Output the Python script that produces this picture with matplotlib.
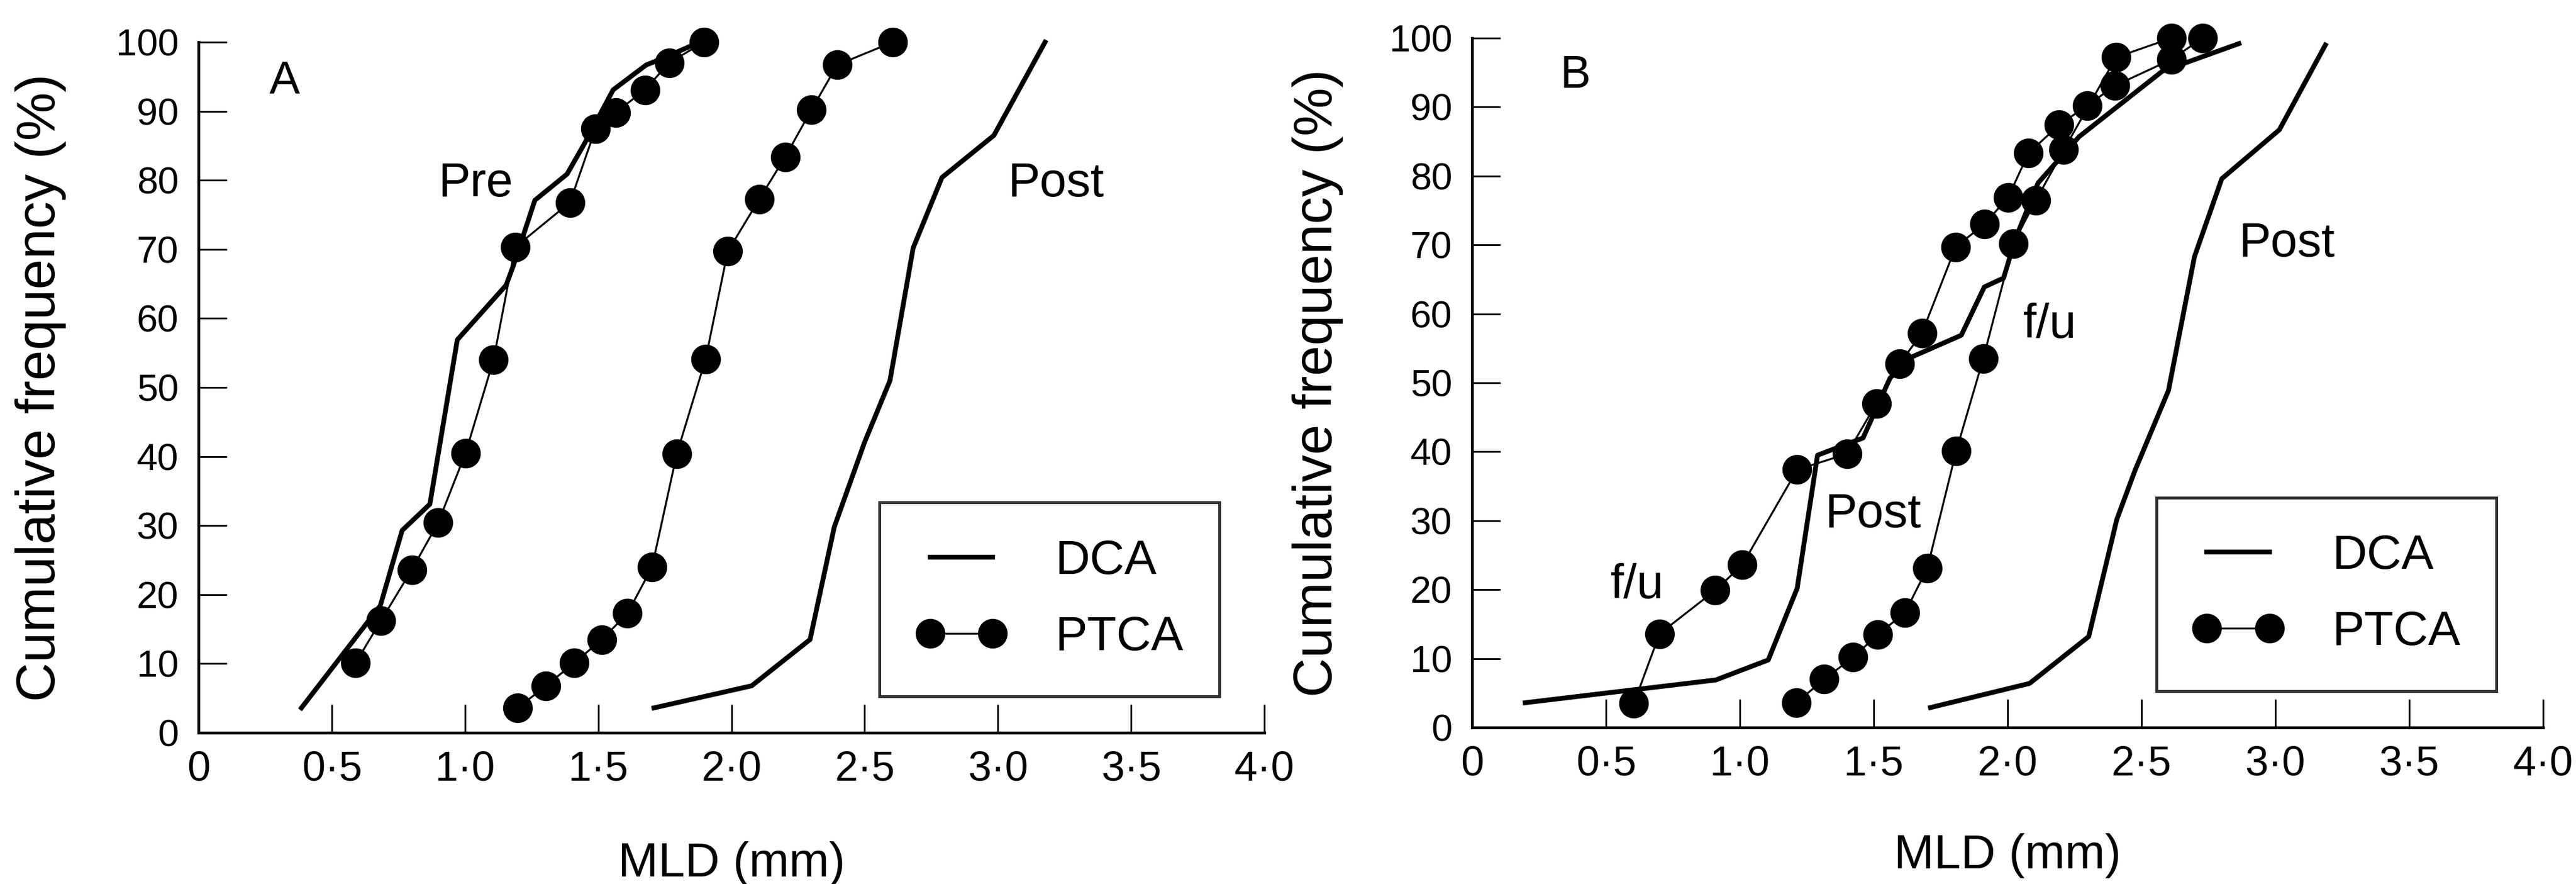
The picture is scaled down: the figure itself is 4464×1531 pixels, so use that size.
import matplotlib
matplotlib.use('Agg')
from matplotlib import pyplot as plt
from matplotlib.lines import Line2D

plt.rcParams['font.family'] = ['Liberation Sans', 'DejaVu Sans']

# panel A: pre and post procedure
pre_dca_x = [0.386, 0.682, 0.764, 0.868, 0.971, 1.154, 1.182, 1.262, 1.383, 1.448, 1.556, 1.68, 1.745, 1.88]
pre_dca_y = [3.6, 18.4, 29.3, 33.1, 56.9, 64.8, 67.7, 77.1, 80.9, 85.3, 93.1, 96.7, 97.7, 100]
pre_ptca_x = [0.589, 0.684, 0.80, 0.899, 1.002, 1.107, 1.188, 1.394, 1.49, 1.565, 1.675, 1.766, 1.896]
pre_ptca_y = [10.1, 16.2, 23.6, 30.4, 40.5, 54.0, 70.3, 76.8, 87.5, 89.8, 93.1, 97.0, 100]
post_dca_a_x = [1.709, 2.076, 2.295, 2.386, 2.50, 2.595, 2.682, 2.79, 2.985, 3.177]
post_dca_a_y = [3.6, 6.8, 13.5, 29.8, 42.1, 51.0, 70.2, 80.4, 86.5, 100]
post_ptca_a_x = [1.198, 1.304, 1.409, 1.514, 1.61, 1.702, 1.795, 1.903, 1.986, 2.105, 2.202, 2.30, 2.397, 2.605]
post_ptca_a_y = [3.6, 6.8, 10.1, 13.5, 17.3, 24.0, 40.4, 54.1, 69.7, 77.3, 83.4, 90.2, 96.7, 100]

# panel B: post procedure and follow up
fu_dca_x = [0.198, 0.91, 1.106, 1.214, 1.29, 1.46, 1.561, 1.645, 1.827, 1.913, 1.985, 2.03, 2.114, 2.267, 2.578, 2.864]
fu_dca_y = [3.6, 6.9, 9.8, 20.2, 39.5, 42.0, 50.7, 53.8, 56.9, 63.9, 65.2, 71.0, 79.0, 85.7, 95.2, 99.2]
fu_ptca_x = [0.604, 0.70, 0.908, 1.009, 1.214, 1.40, 1.51, 1.597, 1.68, 1.806, 1.913, 2.002, 2.078, 2.192, 2.297, 2.401, 2.612, 2.728]
fu_ptca_y = [3.5, 13.6, 19.9, 23.6, 37.4, 39.7, 47.0, 52.8, 57.2, 69.7, 73.0, 76.9, 83.3, 87.4, 90.2, 93.1, 96.9, 100]
post_dca_b_x = [1.712, 2.082, 2.303, 2.408, 2.476, 2.601, 2.698, 2.80, 3.015, 3.187]
post_dca_b_y = [2.9, 6.4, 13.2, 30.2, 37.3, 48.9, 68.3, 79.6, 86.7, 99.0]
post_ptca_b_x = [1.211, 1.315, 1.423, 1.516, 1.617, 1.70, 1.808, 1.909, 2.021, 2.106, 2.21, 2.405, 2.612]
post_ptca_b_y = [3.6, 7.0, 10.2, 13.5, 16.7, 23.1, 40.1, 53.5, 70.2, 76.5, 83.8, 97.2, 100]

x_ticks = [0, 0.5, 1.0, 1.5, 2.0, 2.5, 3.0, 3.5, 4.0]
x_tick_labels = ['0', '0\u00b75', '1\u00b70', '1\u00b75', '2\u00b70', '2\u00b75', '3\u00b70', '3\u00b75', '4\u00b70']
y_ticks = list(range(0, 101, 10))

DCA_LW = 6
PTCA_LW = 2.4
MS = 36


def dca(ax, x, y):
    ax.plot(x, y, color='black', lw=DCA_LW, clip_on=False, zorder=3)


def ptca(ax, x, y):
    ax.plot(x, y, color='black', lw=PTCA_LW, marker='o', ms=MS, clip_on=False, zorder=4)


def style_axes(ax, ylab_x, xlab_y):
    ax.set_xlim(0, 4.0)
    ax.set_ylim(0, 100)
    for side in ['top', 'right']:
        ax.spines[side].set_visible(False)
    for side in ['left', 'bottom']:
        ax.spines[side].set_linewidth(3.6)
    ax.set_xticks(x_ticks)
    ax.set_xticklabels(x_tick_labels)
    ax.set_yticks(y_ticks)
    ax.tick_params(axis='both', direction='in', length=35, width=2.2)
    ax.tick_params(axis='x', labelsize=52, pad=22)
    ax.tick_params(axis='y', labelsize=47, pad=25)
    ax.set_xlabel('MLD (mm)', fontsize=60)
    ax.set_ylabel('Cumulative frequency (%)', fontsize=68)
    ax.xaxis.set_label_coords(0.5, xlab_y)
    ax.yaxis.set_label_coords(ylab_x, 0.5)
    handles = [Line2D([], [], color='black', lw=DCA_LW),
               Line2D([], [], color='black', lw=PTCA_LW, marker='o', ms=MS)]
    leg = ax.legend(handles, ['DCA', 'PTCA'], loc='lower left', bbox_to_anchor=(0.639, 0.053),
                    bbox_transform=ax.transAxes, borderaxespad=0, numpoints=2, fontsize=60,
                    frameon=True, fancybox=False, edgecolor='black', handlelength=1.9,
                    handletextpad=1.0, borderpad=0.75, labelspacing=0.65)
    leg.get_frame().set_linewidth(3.6)


fig = plt.figure(figsize=(44.64, 15.31), dpi=100)
ax_a = fig.add_axes([0.0771, 0.1711, 0.4137, 0.7812])
ax_b = fig.add_axes([0.5715, 0.1770, 0.4157, 0.7799])

dca(ax_a, pre_dca_x, pre_dca_y)
ptca(ax_a, pre_ptca_x, pre_ptca_y)
dca(ax_a, post_dca_a_x, post_dca_a_y)
ptca(ax_a, post_ptca_a_x, post_ptca_a_y)
style_axes(ax_a, -0.124, -0.157)
ax_a.text(0.266, 92.6, 'A', fontsize=57)
ax_a.text(0.898, 77.7, 'Pre', fontsize=60)
ax_a.text(3.037, 77.7, 'Post', fontsize=60)

dca(ax_b, fu_dca_x, fu_dca_y)
ptca(ax_b, fu_ptca_x, fu_ptca_y)
dca(ax_b, post_dca_b_x, post_dca_b_y)
ptca(ax_b, post_ptca_b_x, post_ptca_b_y)
style_axes(ax_b, -0.12, -0.153)
ax_b.text(0.328, 92.8, 'B', fontsize=57)
ax_b.text(2.862, 68.3, 'Post', fontsize=60)
ax_b.text(1.317, 29.1, 'Post', fontsize=60)
ax_b.text(2.058, 56.5, 'f/u', fontsize=60)
ax_b.text(0.517, 18.8, 'f/u', fontsize=60)

fig.savefig('out.png', dpi=100, facecolor='white')
